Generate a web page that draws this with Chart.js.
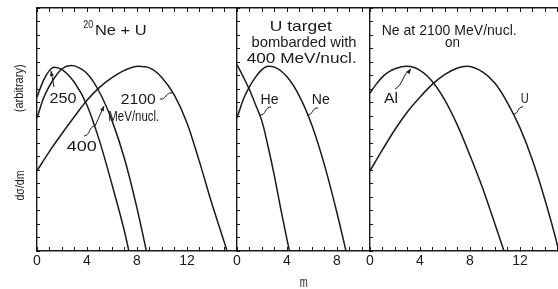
<!DOCTYPE html>
<html>
<head>
<meta charset="utf-8">
<script src="https://cdn.jsdelivr.net/npm/chart.js@4.4.0/dist/chart.umd.min.js"></script>
<style>
  html, body { margin: 0; padding: 0; background: #fff; overflow: hidden; }
  #wrap { position: relative; width: 558px; height: 289px; overflow: hidden; }
  #wrap canvas { position: absolute; top: 0; }
</style>
</head>
<body>
<div id="wrap">
  <canvas id="c1"></canvas>
  <canvas id="c2"></canvas>
  <canvas id="c3"></canvas>
</div>
<script>
const FONT = '"Liberation Sans", Arial, sans-serif';
const INK = '#1a1a1a';

// labelled x ticks (m)
const xTickLabels = [0, 4, 8, 12];

// panel 1: 20Ne + U, 250 / 400 / 2100 MeV/nucl.
const m250 = [0, 0.5, 1, 1.36, 2, 3, 4, 5, 6, 7, 7.35];
const v250 = [79.4, 125.9, 169.8, 186.2, 173.8, 120.2, 63.1, 22.9, 6.61, 1.74, 1];
const m400 = [0, 0.5, 1, 1.5, 2, 2.72, 3, 4, 5, 6, 7, 8, 8.75];
const v400 = [43.7, 75.9, 109.6, 144.5, 177.8, 195.0, 192.8, 154.9, 91.2, 40.7, 13.8, 3.39, 1];
const m2100 = [0, 1, 2, 3, 4, 5, 6, 7, 8.1, 9, 10, 11, 12, 13, 14, 15, 15.2];
const v2100 = [9.77, 17.0, 28.2, 45.7, 72.4, 104.7, 138.0, 169.8, 190.5, 182.0, 138.0, 83.2, 38.0, 12.6, 3.80, 1.26, 1];

// panel 2: U target, 400 MeV/nucl.
const mHe = [0, 0.5, 1, 1.5, 2, 2.5, 3, 3.5, 4, 4.2];
const vHe = [199.5, 141.3, 97.7, 63.1, 39.8, 19.1, 8.32, 3.31, 1.38, 1];
const mNe = [0, 0.5, 1, 1.5, 2, 2.5, 3, 4, 5, 6, 7, 8, 8.72];
const vNe = [43.7, 74.1, 107.2, 141.3, 173.8, 190.5, 186.2, 141.3, 81.3, 35.5, 11.5, 2.95, 1];

// panel 3: Ne at 2100 MeV/nucl. on Al / U
const mAl = [0, 0.5, 1, 1.5, 2, 2.94, 4, 5, 6, 7, 8, 9, 10, 10.72];
const vAl = [89.1, 114.8, 141.3, 162.2, 177.8, 190.5, 169.8, 123.0, 72.4, 35.5, 15.1, 6.03, 2.14, 1];
const mU = [0, 1, 2, 3, 4, 5, 6, 7, 7.74, 9, 10, 11, 12, 13, 14, 15, 15.1];
const vU = [9.77, 17.8, 31.6, 52.5, 79.4, 114.8, 151.4, 182.0, 190.5, 162.2, 117.5, 67.6, 33.1, 13.2, 4.27, 1.17, 1];

const pts = (ms, vs) => ms.map((m, i) => ({x: m, y: vs[i]}));

function notesPlugin(offX, notes) {
  return {
    id: 'notes',
    afterDraw(chart) {
      const ctx = chart.ctx;
      ctx.save();
      ctx.fillStyle = INK;
      ctx.strokeStyle = INK;
      ctx.lineWidth = 1;
      ctx.textAlign = 'center';
      ctx.textBaseline = 'middle';
      (notes.texts || []).forEach(t => {
        ctx.font = t.size + 'px ' + FONT;
        const sx = t.w ? t.w / ctx.measureText(t.s).width : 1;
        ctx.save();
        ctx.translate(t.x - offX, t.y);
        if (t.rot) ctx.rotate(t.rot);
        ctx.scale(sx, 1);
        ctx.fillText(t.s, 0, 0);
        ctx.restore();
      });
      (notes.leaders || []).forEach(l => {
        const [ax, ay] = [l.a[0] - offX, l.a[1]];
        const [bx, by] = [l.b[0] - offX, l.b[1]];
        const dx = bx - ax, dy = by - ay, len = Math.hypot(dx, dy);
        const ux = dx / len, uy = dy / len, nx = -uy, ny = ux;
        ctx.beginPath();
        ctx.moveTo(ax, ay);
        if (l.wave) {
          const k = 4;
          ctx.bezierCurveTo(ax + dx / 3 + nx * k, ay + dy / 3 + ny * k,
                            ax + 2 * dx / 3 - nx * k, ay + 2 * dy / 3 - ny * k, bx, by);
        } else {
          ctx.lineTo(bx, by);
        }
        ctx.stroke();
        if (l.arrow) {
          ctx.beginPath();
          ctx.moveTo(bx, by);
          ctx.lineTo(bx - ux * 5 + nx * 2, by - uy * 5 + ny * 2);
          ctx.lineTo(bx - ux * 5 - nx * 2, by - uy * 5 - ny * 2);
          ctx.closePath();
          ctx.fill();
        }
      });
      ctx.restore();
    }
  };
}

function panel(id, left, yW, plotW, max, series, notes, padRight) {
  const cv = document.getElementById(id);
  const offX = left - yW;
  cv.width = yW + plotW + padRight;
  cv.height = 289;
  cv.style.left = offX + 'px';

  const fix = (h, w) => s => {
    s.paddingLeft = s.paddingRight = s.paddingTop = s.paddingBottom = 0;
    if (h != null) s.height = h;
    if (w != null) s.width = w;
  };
  const intTicks = s => {
    s.ticks = [];
    for (let v = 0; v <= s.max; v++) s.ticks.push({value: v});
  };
  const grid = len => ({drawOnChartArea: false, drawTicks: true, tickLength: len, color: INK, lineWidth: 1});
  const border = {display: true, color: INK, width: 1.4};

  return new Chart(cv, {
    type: 'line',
    data: {
      datasets: series.map(s => ({
        data: pts(s[0], s[1]),
        borderColor: INK,
        borderWidth: 1.5,
        pointRadius: 0,
        fill: false,
        cubicInterpolationMode: 'monotone'
      }))
    },
    options: {
      responsive: false,
      animation: false,
      layout: {padding: {left: 0, right: padRight, top: 0, bottom: 0}},
      plugins: {legend: {display: false}, tooltip: {enabled: false}},
      scales: {
        x: {
          type: 'linear', position: 'bottom', min: 0, max: max,
          afterBuildTicks: intTicks, afterFit: fix(38, null),
          ticks: {
            autoSkip: false, maxRotation: 0, padding: 6, color: INK,
            font: {family: FONT, size: 14},
            callback: v => (xTickLabels.includes(v) && v < max) ? String(v) : ''
          },
          grid: grid(-4), border: border
        },
        x2: {
          type: 'linear', position: 'top', min: 0, max: max,
          afterBuildTicks: intTicks, afterFit: fix(8, null),
          ticks: {display: false},
          grid: grid(-4), border: border
        },
        y: {
          type: 'logarithmic', position: 'left', min: 1, max: 1000,
          afterBuildTicks: s => {
            s.ticks = [];
            for (let i = 0; i <= 18; i++) s.ticks.push({value: Math.pow(10, i / 6), major: i % 6 === 0});
          },
          afterFit: fix(null, yW),
          ticks: {display: false},
          grid: grid(-3), border: border
        }
      }
    },
    plugins: [notesPlugin(offX, notes)]
  });
}

panel('c1', 37, 37, 200, 16,
  [[m250, v250], [m400, v400], [m2100, v2100]],
  {
    texts: [
      {s: '20', x: 88.3, y: 25, size: 10, w: 10},
      {s: 'Ne + U', x: 120.8, y: 31, size: 15, w: 51.7},
      {s: '250', x: 63, y: 99, size: 15, w: 27},
      {s: '400', x: 81.7, y: 147, size: 15, w: 30},
      {s: '2100', x: 138.3, y: 99.7, size: 15, w: 35},
      {s: 'MeV/nucl.', x: 133.8, y: 117, size: 14, w: 51},
      {s: '(arbitrary)', x: 19.5, y: 88.3, size: 13, w: 48, rot: -Math.PI / 2},
      {s: 'dσ/dm', x: 20, y: 185.5, size: 13, w: 30, rot: -Math.PI / 2}
    ],
    leaders: [
      {a: [54, 87], b: [51, 71], arrow: true},
      {a: [84, 136], b: [95, 126], wave: true},
      {a: [95, 126], b: [104, 106], arrow: true},
      {a: [160, 99], b: [172, 93], wave: true}
    ]
  }, 0);

panel('c2', 237, 14, 133, 10.64,
  [[mHe, vHe], [mNe, vNe]],
  {
    texts: [
      {s: 'U target', x: 300.8, y: 27, size: 15, w: 62},
      {s: 'bombarded with', x: 304, y: 43, size: 15, w: 105},
      {s: '400 MeV/nucl.', x: 301.7, y: 59.2, size: 15, w: 110},
      {s: 'He', x: 269.5, y: 100.5, size: 14, w: 18},
      {s: 'Ne', x: 320.8, y: 100.5, size: 14, w: 18},
      {s: 'm', x: 303.7, y: 283, size: 14, w: 8}
    ],
    leaders: [
      {a: [271, 107], b: [260, 115], wave: true},
      {a: [318, 108], b: [307, 115], wave: true}
    ]
  }, 0);

panel('c3', 370, 14, 200, 16,
  [[mAl, vAl], [mU, vU]],
  {
    texts: [
      {s: 'Ne at 2100 MeV/nucl.', x: 449.2, y: 31.3, size: 14, w: 135},
      {s: 'on', x: 452.5, y: 42.8, size: 14, w: 15},
      {s: 'Al', x: 391, y: 99.5, size: 14, w: 14},
      {s: 'U', x: 524.7, y: 99, size: 14, w: 8}
    ],
    leaders: [
      {a: [395, 89], b: [411, 69], wave: true, arrow: true},
      {a: [523, 107], b: [513, 114], wave: true}
    ]
  }, 4);
</script>
</body>
</html>
